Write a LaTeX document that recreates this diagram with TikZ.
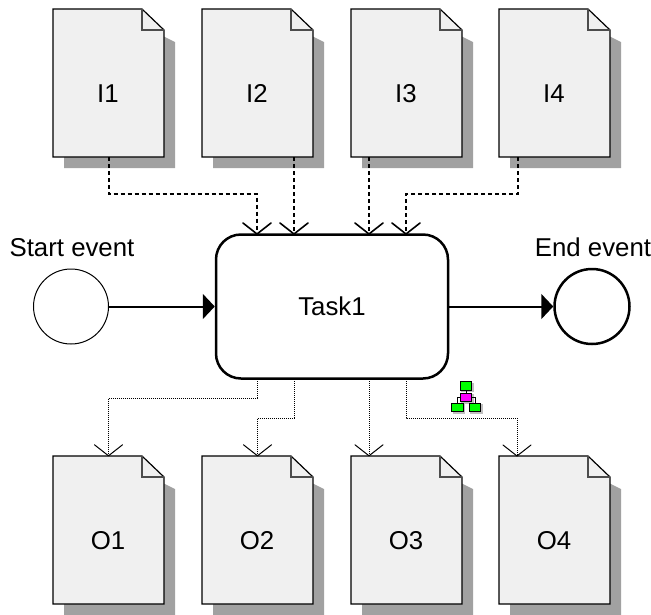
\documentclass[tikz,border=0pt]{standalone}
\usepackage{fontspec}
\setmainfont{Liberation Sans}
\usetikzlibrary{arrows.meta}
\definecolor{docfill}{gray}{0.94}
\definecolor{docshade}{gray}{0.63}
\definecolor{iconmid}{RGB}{255,0,255}
\definecolor{iconleaf}{RGB}{0,255,0}
\pgfdeclarearrow{
	name=VHead,
	defaults={length=11pt,width=28pt},
	setup code={
		\pgfarrowssettipend{0pt}
		\pgfarrowssetlineend{-0.7pt}
		\pgfarrowssetbackend{-\pgfarrowlength}
		\pgfarrowssavethe\pgfarrowlength
		\pgfarrowssavethe\pgfarrowwidth
		\pgfarrowssavethe\pgfarrowlinewidth
	},
	drawing code={
		\pgfsetdash{}{0pt}
		\pgfsetlinewidth{\pgfarrowlinewidth}
		\pgfsetroundcap
		\pgfsetroundjoin
		\pgfpathmoveto{\pgfpoint{-\pgfarrowlength}{.5\pgfarrowwidth}}
		\pgfpathlineto{\pgfpointorigin}
		\pgfpathlineto{\pgfpoint{-\pgfarrowlength}{-.5\pgfarrowwidth}}
		\pgfusepathqstroke
	},
	parameters={\the\pgfarrowlength,\the\pgfarrowwidth,\the\pgfarrowlinewidth}
}
\tikzset{
	lbl/.style={font=\fontsize{25.8}{28}\selectfont, inner sep=0pt},
	docnode/.style={minimum width=111pt, minimum height=148pt, inner sep=0pt},
	seqflow/.style={line width=2pt, -{Triangle[length=12pt,width=25pt]}},
	inflow/.style={line width=2pt, dash pattern=on 4pt off 3pt, -{VHead[line width=1.6pt]}},
	outflow/.style={line width=1pt, densely dotted, -{VHead[line width=1pt]}},
	iconbox/.style={draw=black, line width=1pt, minimum width=11.5pt, minimum height=8.5pt, inner sep=0pt, fill=iconleaf}
}
% sheet with shadow and folded corner, (name)(left,top){text}
\def\docsheet(#1)(#2,#3)#4{
	\fill[docshade] (#2+11, #3+22) -- (#2+100, #3+22) -- (#2+122, #3+22+11) -- (#2+122, #3+159) -- (#2+11, #3+159) -- cycle;
	\draw[fill=docfill, line width=1.2pt] (#2, #3) -- (#2+89, #3) -- (#2+111, #3+21) -- (#2+111, #3+148) -- (#2, #3+148) -- cycle;
	\draw[line width=1.2pt, draw=black!70] (#2+89, #3) -- (#2+89, #3+21) -- (#2+111, #3+21);
	\node[docnode] (#1) at (#2+55.5, #3+74) {};
	\node[lbl] (#1text) at (#2+55, #3+84.5) {#4};
}
\begin{document}
\begin{tikzpicture}[x=1pt, y=-1pt]
	\useasboundingbox (0, 0) rectangle (651, 614);

	%%%%% documents %%%%%
	\docsheet(I1)(53,9){I1}
	\docsheet(I2)(202,9){I2}
	\docsheet(I3)(351,9){I3}
	\docsheet(I4)(499,9){I4}

	\docsheet(O1)(53,456){O1}
	\docsheet(O2)(202,456){O2}
	\docsheet(O3)(351,456){O3}
	\docsheet(O4)(499,456){O4}

	%%%%% task and events %%%%%
	\node[draw, line width=2.5pt, rounded corners=25pt, minimum width=232pt, minimum height=144pt, inner sep=0pt, lbl] (Task1) at (332, 306.5) {Task1};
	\node[draw, circle, line width=1pt, minimum size=75pt, inner sep=0pt] (Start) at (71, 306.5) {};
	\node[draw, circle, line width=2.5pt, minimum size=75pt, inner sep=0pt] (End) at (592, 306.5) {};
	\node[lbl] (StartLabel) at (72, 248) {Start event};
	\node[lbl] (EndLabel) at (593, 247) {End event};

	\draw[seqflow] (Start) -- (Task1);
	\draw[seqflow] (Task1) -- (End);

	%%%%% anchor points on the task %%%%%
	\coordinate (pa) at (257, 234);
	\coordinate (pb) at (294, 234);
	\coordinate (pc) at (369, 234);
	\coordinate (pd) at (406, 234);
	\coordinate (qa) at (257, 379);
	\coordinate (qb) at (294, 379);
	\coordinate (qc) at (369, 379);
	\coordinate (qd) at (406, 379);

	%%%%% inputs %%%%%
	\draw[inflow] (I1.south) -- (I1.south |- 0, 194) -- (pa |- 0, 194) -- (pa);
	\draw[inflow] (pb |- I2.south) -- (pb);
	\draw[inflow] (pc |- I3.south) -- (pc);
	\draw[inflow] (518, 157) -- (518, 194) -- (pd |- 0, 194) -- (pd);

	%%%%% outputs %%%%%
	\draw[outflow] (qa) -- (257, 398) -- (108.5, 398) -- (O1.north);
	\draw[outflow] (qb) -- (294, 418) -- (257.5, 418) -- (O2.north);
	\draw[outflow] (qc) -- (qc |- O3.north);
	\draw[outflow] (qd) -- (406, 418) -- (517, 418) -- (517, 456);

	%%%%% small icon %%%%%
	\fill[black!25] (461, 383) rectangle (474, 392);
	\fill[black!25] (461, 394) rectangle (474, 404);
	\fill[black!25] (453, 404) rectangle (465, 414);
	\fill[black!25] (470, 404) rectangle (483, 414);
	\node[iconbox] (IconTop) at (466, 386) {};
	\node[iconbox, fill=iconmid] (IconMid) at (466, 397.5) {};
	\node[iconbox] (IconLeft) at (457.5, 407.5) {};
	\node[iconbox] (IconRight) at (475, 407.5) {};
	\draw[line width=1pt] (IconTop) -- (IconMid);
	\draw[line width=1pt] (IconMid.west) -| (IconLeft.north);
	\draw[line width=1pt] (IconMid.east) -| (IconRight.north);
\end{tikzpicture}
\end{document}
